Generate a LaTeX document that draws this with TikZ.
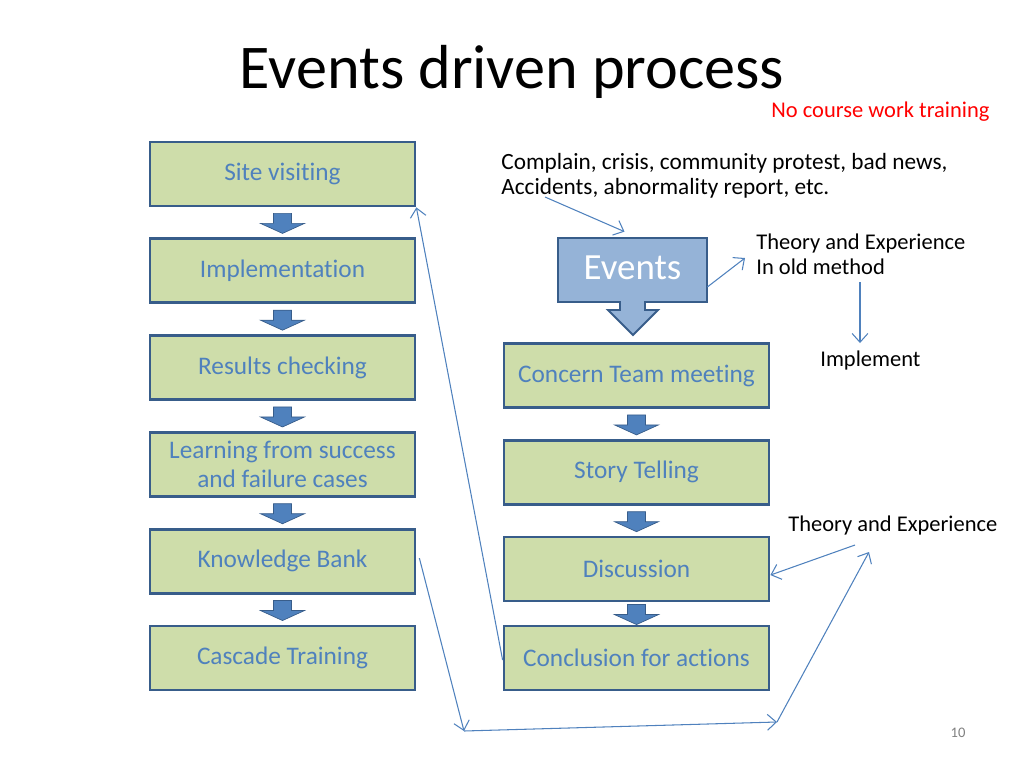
\documentclass[tikz,border=0pt]{standalone}
\usepackage{fontspec}
\setmainfont{Carlito}[Ligatures=NoCommon]
\usetikzlibrary{arrows.meta,calc}
\definecolor{boxgreen}{RGB}{206,221,170}
\definecolor{boxline}{RGB}{56,93,138}
\definecolor{boxtext}{RGB}{79,129,189}
\definecolor{eventblue}{RGB}{149,179,215}
\tikzstyle{block} = [rectangle, draw=boxline, fill=boxgreen, line width=1.6pt,
    text=boxtext, align=center, minimum width=5.3cm, minimum height=1.28cm,
    font=\fontsize{14.4}{16}\selectfont]
\tikzstyle{note} = [inner sep=0pt, align=left, font=\fontsize{12.8}{14.2}\selectfont]
\tikzstyle{link} = [draw=boxtext, line width=0.6pt, -{Straight Barb[length=5pt,width=9pt]}]
\tikzstyle{down} = [fill=boxtext, draw=boxline, line width=0.4pt]

\begin{document}
\begin{tikzpicture}[x=0.02cm, y=-0.02cm, node distance = 1.936cm]
		\useasboundingbox (0,0) rectangle (1024,768);

		% title and notes
		\node [anchor=base, font=\fontsize{35.4}{40}\selectfont] (title) at (512,88) {Events driven process};
		\node [note, anchor=base west, text=red] (nocourse) at (771,117) {No course work training};
		\node [note, anchor=base west, font=\fontsize{13.25}{14.2}\selectfont] (complain) at (501,194) {Complain, crisis, community protest, bad news,\\Accidents, abnormality report, etc.};
		\node [note, anchor=base west] (oldmethod) at (756,274) {Theory and Experience\\In old method};
		\node [note, anchor=base west] (implementnote) at (820,366) {Implement};
		\node [note, anchor=base west] (theory) at (788,531) {Theory and Experience};
		\node [anchor=base, text=gray, font=\fontsize{8.3}{10}\selectfont] (pagenum) at (958,737) {10};

		% left column
		\node [block] (site) at (282.5,174) {Site visiting};
		\node [block, below of=site] (implement) {Implementation};
		\node [block, below of=implement] (results) {Results checking};
		\node [block, below of=results] (learning) {Learning from success\\and failure cases};
		\node [block, below of=learning] (bank) {Knowledge Bank};
		\node [block, below of=bank] (cascade) {Cascade Training};

		% right column
		\draw [fill=eventblue, draw=boxline, line width=1.1pt] (558,238) -- (707,238) -- (707,302) -- (645,302) -- (645,310)
			-- (658,310) -- (633,335) -- (608,310) -- (620,310) -- (620,302) -- (558,302) -- cycle;
		\node [inner sep=0pt, minimum width=2.98cm, minimum height=1.28cm, text=white,
			font=\fontsize{21}{24}\selectfont] (events) at (632.5,268) {Events};
		\node [block] (concern) at (636.5,375.5) {Concern Team meeting};
		\node [block, below of=concern] (story) {Story Telling};
		\node [block, below of=story] (discussion) {Discussion};
		\node [block, below of=discussion, node distance=1.78cm] (conclusion) {Conclusion for actions};

		% small arrows between the boxes
		\foreach \a/\b in {site/implement, implement/results, results/learning, learning/bank, bank/cascade,
			concern/story, story/discussion, discussion/conclusion}
			\draw [down] ($(\a.south)!0.5!(\b.north)$) ++(-9,-9) -- ++(18,0) -- ++(0,10) -- ++(13,0)
				-- ++(-22,10) -- ++(-22,-10) -- ++(13,0) -- cycle;

		% free ends of the thin connectors
		\coordinate (complainend) at (545,197);
		\coordinate (oldmethodend) at (745,258);
		\coordinate (oldmethodfoot) at (860,282);
		\coordinate (theoryfoot) at (855,545);
		\coordinate (bottomleft) at (464,731);
		\coordinate (bottomright) at (777,722);
		\coordinate (theoryend) at (869,552);

		% draw the thin connectors
		\draw [link] (complainend) -- ([shift={(-8,-4)}]events.north);
		\draw [link] ([shift={(0,19)}]events.east) -- (oldmethodend);
		\draw [link] (oldmethodfoot) -- ($(oldmethodfoot |- implementnote.north)+(0,-7)$);
		\draw [link] (theoryfoot) -- ([shift={(0,6)}]discussion.east);
		\draw [link] ([shift={(3,-3)}]bank.east) -- (bottomleft);
		\draw [link] (bottomleft) -- (bottomright);
		\draw [link] (bottomright) -- (theoryend);
		\draw [link] ([shift={(0,2)}]conclusion.west) -- (site.south east);
	\end{tikzpicture}
\end{document}
